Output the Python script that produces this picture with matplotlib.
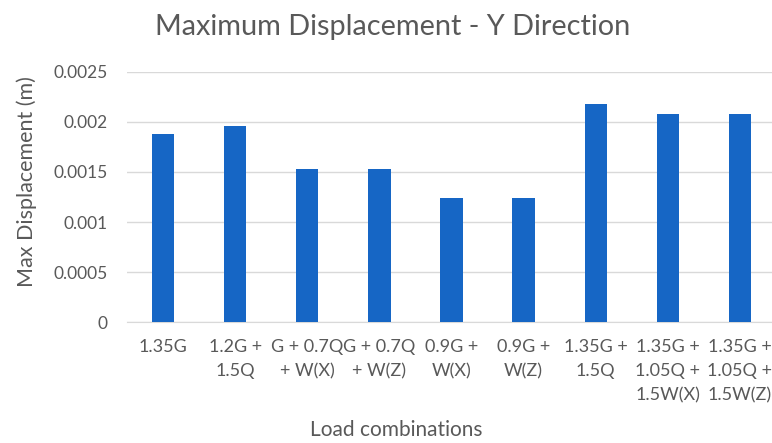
import matplotlib
matplotlib.use("Agg")
import matplotlib.pyplot as plt

categories = ["1.35G", "1.2G +\n1.5Q", "G + 0.7Q\n+ W(X)", "G + 0.7Q\n+ W(Z)",
              "0.9G +\nW(X)", "0.9G +\nW(Z)", "1.35G +\n1.5Q",
              "1.35G +\n1.05Q +\n1.5W(X)", "1.35G +\n1.05Q +\n1.5W(Z)"]
values = [0.00188, 0.00196, 0.00153, 0.00153, 0.00124, 0.00124, 0.00218, 0.00208, 0.00208]
yticks = [0, 0.0005, 0.001, 0.0015, 0.002, 0.0025]
ytick_labels = ["0", "0.0005", "0.001", "0.0015", "0.002", "0.0025"]

plt.rcParams['font.family'] = ['Lato', 'DejaVu Sans']
text_color = '#595959'

fig = plt.figure(figsize=(7.72, 4.43), dpi=100)
ax = fig.add_axes([0.1645, 0.2731, 0.8407, 0.5644])

x = range(len(categories))
ax.bar(x, values, width=0.31, color='#1666C5', zorder=3)
ax.set_xlim(-0.5, len(categories) - 0.5)
ax.set_ylim(0, 0.0025)
ax.set_yticks(yticks)
ax.set_yticklabels(ytick_labels, fontsize=12.5)
ax.set_xticks(list(x))
ax.set_xticklabels(categories, linespacing=1.65, fontsize=13)
ax.tick_params(axis='both', length=0, colors=text_color)
ax.tick_params(axis='x', pad=12)
ax.tick_params(axis='y', pad=14)
ax.grid(axis='y', color='#d9d9d9', linewidth=1, zorder=0)
for s in ['top', 'right', 'left']:
    ax.spines[s].set_visible(False)
ax.spines['bottom'].set_color('#d9d9d9')

fig.text(0.034, 0.59, "Max Displacement (m)", fontsize=15.5, color=text_color,
         rotation=90, ha='center', va='center')
fig.text(0.513, 0.029, "Load combinations", fontsize=15, color=text_color, ha='center', va='center')
fig.text(0.508, 0.939, "Maximum Displacement - Y Direction", fontsize=20.8, color=text_color,
         ha='center', va='center')

fig.savefig("out.png", dpi=100)
